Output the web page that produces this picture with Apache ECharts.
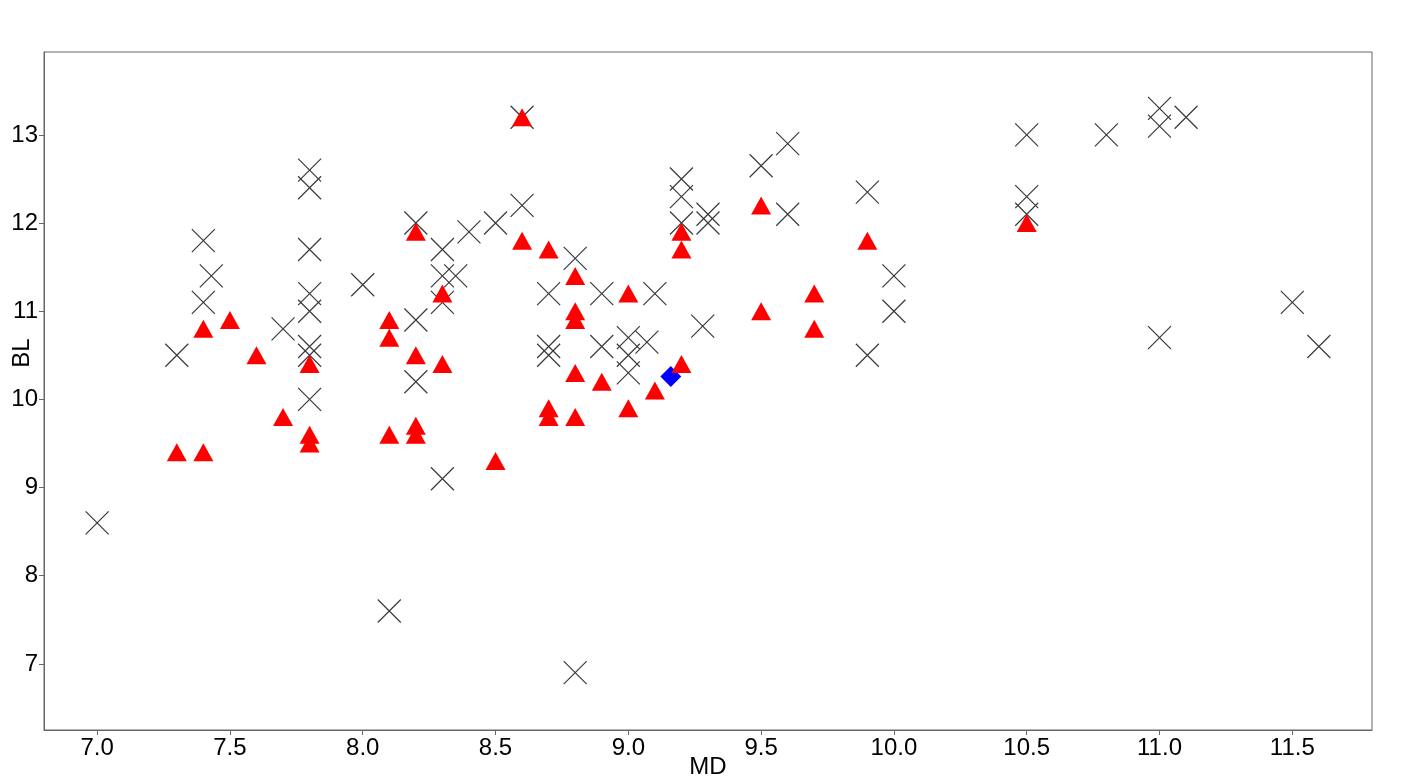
<!DOCTYPE html>
<html>
<head>
<meta charset="utf-8">
<script src="https://cdn.jsdelivr.net/npm/echarts@6/dist/echarts.min.js"></script>
<style>
  html, body { margin: 0; padding: 0; background: #fff; }
  #chart { width: 1417px; height: 783px; }
</style>
</head>
<body>
<div id="chart"></div>
<script>
// black crosses: [MD, BL]
const crossPoints = [
  [7.0, 8.6], [7.3, 10.5], [7.4, 11.8], [7.43, 11.4], [7.4, 11.1], [7.7, 10.8],
  [7.8, 12.6], [7.8, 12.4], [7.8, 11.7], [7.8, 11.2], [7.8, 11.0], [7.8, 10.6],
  [7.8, 10.5], [7.8, 10.0], [8.0, 11.3], [8.1, 7.6], [8.2, 12.0], [8.2, 10.9],
  [8.2, 10.2], [8.3, 11.7], [8.3, 11.4], [8.35, 11.4], [8.3, 11.1], [8.3, 9.1],
  [8.4, 11.9], [8.5, 12.0], [8.6, 13.2], [8.6, 12.2], [8.7, 11.2], [8.7, 10.6],
  [8.7, 10.5], [8.8, 11.6], [8.8, 6.9], [8.9, 11.2], [8.9, 10.6], [9.0, 10.7],
  [9.0, 10.5], [9.0, 10.3], [9.07, 10.65], [9.1, 11.2], [9.2, 12.5], [9.2, 12.3],
  [9.2, 12.0], [9.28, 10.83], [9.3, 12.1], [9.3, 12.0], [9.5, 12.65], [9.6, 12.9],
  [9.6, 12.1], [9.9, 12.35], [9.9, 10.5], [10.0, 11.4], [10.0, 11.0], [10.5, 13.0],
  [10.5, 12.3], [10.5, 12.1], [10.8, 13.0], [11.0, 13.3], [11.0, 13.1], [11.1, 13.2],
  [11.0, 10.7], [11.5, 11.1], [11.6, 10.6]
];

// red triangles: [MD, BL]
const trianglePoints = [
  [7.3, 9.4], [7.4, 9.4], [7.4, 10.8], [7.5, 10.9], [7.6, 10.5], [7.7, 9.8],
  [7.8, 10.4], [7.8, 9.6], [7.8, 9.5], [8.1, 10.9], [8.1, 10.7], [8.1, 9.6],
  [8.2, 11.9], [8.2, 10.5], [8.2, 9.7], [8.2, 9.6], [8.3, 11.2], [8.3, 10.4],
  [8.5, 9.3], [8.6, 13.2], [8.6, 11.8], [8.7, 11.7], [8.7, 9.9], [8.7, 9.8],
  [8.8, 11.4], [8.8, 11.0], [8.8, 10.9], [8.8, 10.3], [8.8, 9.8], [8.9, 10.2],
  [9.0, 11.2], [9.0, 9.9], [9.1, 10.1], [9.2, 11.9], [9.2, 11.7], [9.2, 10.4],
  [9.5, 12.2], [9.5, 11.0], [9.7, 11.2], [9.7, 10.8], [9.9, 11.8], [10.5, 12.0]
];

// blue diamond
const diamondPoints = [[9.16, 10.26]];

const xTicks = [7.0, 7.5, 8.0, 8.5, 9.0, 9.5, 10.0, 10.5, 11.0, 11.5];
const yTicks = [7, 8, 9, 10, 11, 12, 13];

const font = 'Liberation Sans, Arial, sans-serif';
const chart = echarts.init(document.getElementById('chart'), null, { renderer: 'canvas' });

const axisCommon = {
  axisLine: { show: true, onZero: false, lineStyle: { color: '#666', width: 1 } },
  splitLine: { show: false },
  nameMoveOverlap: false,
  nameTextStyle: { color: '#000', fontSize: 24, fontFamily: font },
};

chart.setOption({
  animation: false,
  backgroundColor: '#fff',
  grid: {
    left: 44, right: 45, top: 52, bottom: 53,
    containLabel: false,
    outerBoundsMode: 'none',
    show: true, borderColor: '#666', borderWidth: 1, backgroundColor: 'transparent'
  },
  xAxis: Object.assign({}, axisCommon, {
    type: 'value',
    min: 6.8,
    max: 11.8,
    name: 'MD',
    nameLocation: 'middle',
    nameGap: 25,
    axisTick: { show: true, length: 5, customValues: xTicks, lineStyle: { color: '#666' } },
    axisLabel: {
      customValues: xTicks,
      color: '#000', fontSize: 24, fontFamily: font, margin: 6,
      formatter: (v) => v.toFixed(1)
    }
  }),
  yAxis: Object.assign({}, axisCommon, {
    type: 'value',
    min: 6.25,
    max: 13.94,
    name: 'BL',
    nameLocation: 'middle',
    nameGap: 10,
    nameTextStyle: { color: '#000', fontSize: 24, fontFamily: font, padding: [0, 0, 0, 76] },
    axisTick: { show: true, length: 5, customValues: yTicks, lineStyle: { color: '#666' } },
    axisLabel: {
      customValues: yTicks,
      color: '#000', fontSize: 24, fontFamily: font, margin: 6
    }
  }),
  series: [
    {
      type: 'scatter',
      data: crossPoints,
      symbol: 'path://M0,0L10,10M10,0L0,10',
      symbolSize: 23,
      itemStyle: { color: 'none', borderColor: '#3a3a3a', borderWidth: 1.2, opacity: 1 },
      z: 2
    },
    {
      type: 'scatter',
      data: diamondPoints,
      symbol: 'diamond',
      symbolSize: 21,
      itemStyle: { color: '#0000ff', opacity: 1 },
      z: 3
    },
    {
      type: 'scatter',
      data: trianglePoints,
      symbol: 'triangle',
      symbolSize: [20, 18],
      itemStyle: { color: '#ff0000', opacity: 1 },
      z: 4
    }
  ]
});
</script>
</body>
</html>
